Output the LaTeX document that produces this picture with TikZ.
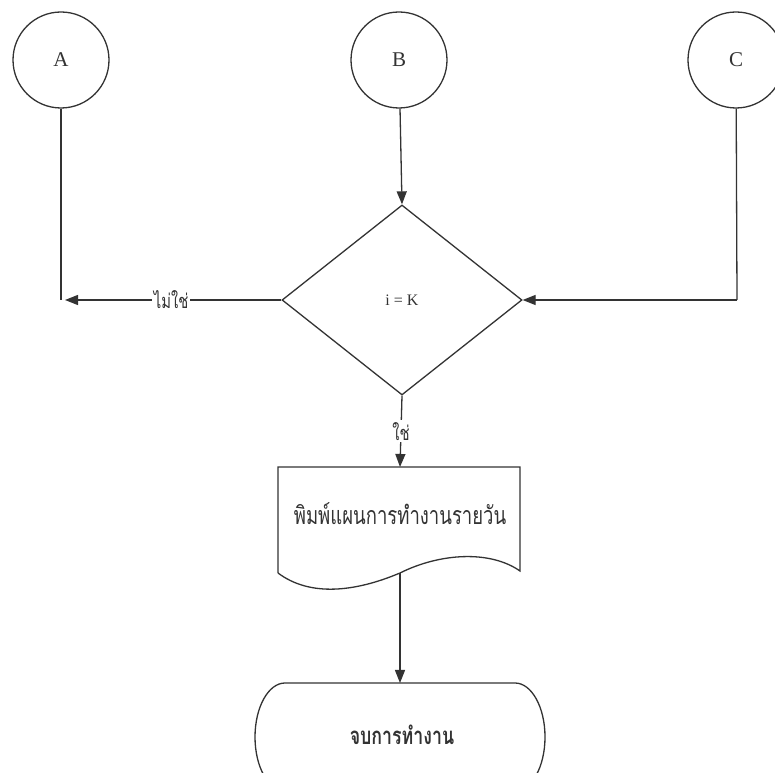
\documentclass[tikz,border=0pt]{standalone}
\usepackage{fontspec}
\setmainfont{Liberation Serif}
\newfontfamily\thai[Script=Thai, FakeStretch=0.74]{Loma}
\usetikzlibrary{shapes.geometric, arrows.meta}

\definecolor{ink}{HTML}{333333}

\tikzset{
  flow/.style={draw=ink, line width=1.3bp},
  arr/.style={flow, -{Triangle[length=13bp, width=10bp]}},
  connector/.style={circle, flow, minimum size=96bp, inner sep=0pt,
    font=\fontsize{21bp}{24bp}\selectfont, text=ink},
  decision/.style={diamond, flow, minimum width=240bp, minimum height=190bp,
    inner sep=0pt, font=\fontsize{16bp}{18bp}\selectfont, text=ink},
  thaitext/.style={font=\thai\fontsize{25bp}{28bp}\selectfont, text=ink, inner sep=1bp},
  thaibold/.style={font=\thai\bfseries\fontsize{24bp}{28bp}\selectfont, text=ink, inner sep=1bp},
  branch/.style={fill=white, font=\thai\fontsize{20bp}{22bp}\selectfont, text=ink, inner sep=2bp}
}

\begin{document}
\begin{tikzpicture}[x=1bp, y=1bp]
  \useasboundingbox (0,0) rectangle (775,773);
  \fill[white] (0,0) rectangle (775,773);
  \clip (0,0) rectangle (775,773);

  % off-page connectors
  \node[connector] (A) at (61,713) {A};
  \node[connector] (B) at (399,713) {B};
  \node[connector] (C) at (736,713) {C};

  % decision
  \node[decision] (D) at (402,473) {i = K};

  % corner points of the side lines
  \coordinate (aL) at (61,473);
  \coordinate (cR) at (737,473);

  % document: print the daily work plan
  \node[thaitext] (doc) at (400,259) {พิมพ์แผนการทำงานรายวัน};
  \coordinate (doctop) at (400,306);
  \coordinate (docbot) at (400,200);
  \draw[flow] (278,200) -- (278,306) -- (520,306) -- (520,202)
    .. controls (490,223) and (440,220) .. (400,200)
    .. controls (355,181) and (310,176) .. (278,200);

  % terminator: end of work
  \node[thaibold] (stop) at (402,38) {จบการทำงาน};
  \coordinate (stoptop) at (400,90);
  \draw[flow] (285,90) -- (515,90)
    arc[start angle=90, end angle=-90, x radius=30, y radius=54]
    -- (285,-18)
    arc[start angle=270, end angle=90, x radius=30, y radius=54] -- cycle;

  % connectors
  \draw[arr] (B) -- (D.north);
  \draw[flow] (A) -- (aL);
  \draw[arr, shorten >=4bp] (D.west) -- node[branch] {ไม่ใช่} (aL);
  \draw[flow] (C) -- (cR);
  \draw[arr] (cR) -- (D.east);
  \draw[arr] (D.south) -- node[branch] {ใช่} (doctop);
  \draw[arr] (docbot) -- (stoptop);
\end{tikzpicture}
\end{document}
